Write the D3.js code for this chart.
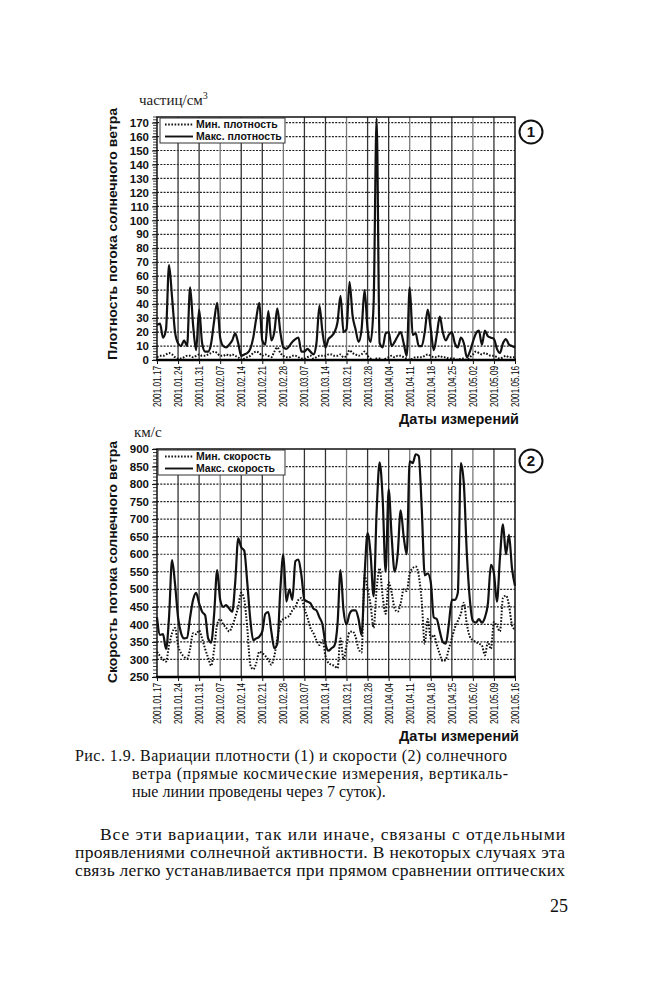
<!DOCTYPE html>
<html><head><meta charset="utf-8">
<script src="https://cdn.jsdelivr.net/npm/d3@7/dist/d3.min.js"></script>
<style>body{margin:0;background:#fff}</style>
</head><body>
<svg id="c" width="650" height="1000"></svg>
<script>
// ---------- DATA ----------
const startDate = "2001-01-17"; // daily measurements, 120 days
const dateTickLabels = ["2001.01.17","2001.01.24","2001.01.31","2001.02.07","2001.02.14","2001.02.21","2001.02.28","2001.03.07","2001.03.14","2001.03.21","2001.03.28","2001.04.04","2001.04.11","2001.04.18","2001.04.25","2001.05.02","2001.05.09","2001.05.16"];
const densityTicks = [0,10,20,30,40,50,60,70,80,90,100,110,120,130,140,150,160,170];
const speedTicks = [250,300,350,400,450,500,550,600,650,700,750,800,850,900];
const densityLegend = ["Мин. плотность","Макс. плотность"];
const speedLegend = ["Мин. скорость","Макс. скорость"];

const densityMax = [25,26,16,22,68,45,20,12,10,14,10,52,25,7,36,12,6,6,12,28,
  41,16,10,9,11,14,19,12,3,4,5,8,16,30,41,14,11,35,14,20,
  37,20,9,8,10,13,15,16,6,6,8,6,4,12,39,20,9,15,17,20,
  27,46,20,22,56,32,22,13,22,50,22,13,40,173,12,9,19,20,10,13,
  17,20,12,3,52,18,19,10,10,20,36,22,7,18,31,20,14,18,20,12,
  9,16,12,2,6,13,19,21,11,21,17,16,15,8,5,12,15,11,10,9];
const densityMin = [2,3,3,4,5,4,2,1,1,2,3,3,2,3,4,3,3,4,5,6,
  5,3,3,4,3,4,3,2,0,1,2,3,5,6,5,3,4,3,2,6,
  9,5,3,2,2,3,3,2,1,1,2,3,1,2,3,3,3,4,4,3,
  3,4,2,3,7,5,4,3,4,6,3,1,0,1,1,0,1,2,3,2,
  3,3,2,1,0,1,2,2,2,3,4,3,2,2,3,2,2,1,1,1,
  0,1,1,0,2,4,6,5,4,5,4,3,3,2,1,2,3,2,2,2];
const speedMax = [420,370,372,330,420,583,515,420,375,360,362,420,470,490,460,436,426,360,348,430,
  555,470,450,455,445,436,520,645,620,610,520,415,355,360,365,380,430,435,380,332,
  345,500,600,465,500,470,580,585,540,470,465,460,445,440,420,400,345,325,332,340,
  400,555,440,400,430,440,440,415,370,540,660,600,480,720,862,760,550,785,650,550,
  600,725,650,600,865,860,885,880,730,540,545,520,420,415,380,350,345,400,470,470,
  490,860,800,600,470,410,405,415,405,420,460,570,545,465,590,685,600,655,560,510];
const speedMin = [322,310,300,294,340,375,390,340,318,308,302,330,375,372,383,360,330,305,282,330,
  400,415,400,390,380,395,420,450,490,470,390,285,272,290,322,318,310,300,285,310,
  360,405,415,420,425,440,450,470,475,445,420,390,375,355,341,355,310,290,285,282,
  275,360,300,340,378,380,365,330,320,540,500,455,390,500,560,480,430,520,490,445,
  436,460,500,495,545,560,565,540,465,345,415,360,370,342,315,295,300,330,360,390,
  410,430,462,400,365,355,350,345,340,312,350,330,407,395,380,475,482,455,398,385];

// ---------- DRAW ----------
const svg = d3.select("#c");
const parse = d3.timeParse("%Y-%m-%d");
const d0 = parse(startDate);
const dates = densityMax.map((_, i) => d3.timeDay.offset(d0, i));
const tickDates = dateTickLabels.map(s => d3.timeParse("%Y.%m.%d")(s));
const SANS = "'Liberation Sans', Arial, sans-serif";
const SERIF = "'Liberation Serif', 'Times New Roman', serif";

function drawChart(cfg) {
  const g = svg.append("g");
  const x = d3.scaleTime().domain([dates[0], dates[dates.length-1]]).range([157, 515]);
  const y = d3.scaleLinear().domain(cfg.domain).range([cfg.bottom, cfg.top]);
  const [x0, x1] = x.range();

  // horizontal dotted grid
  g.append("g").selectAll("line").data(cfg.ticks.filter(v => v > cfg.domain[0] && v < cfg.domain[1]))
    .join("line").attr("x1", x0).attr("x2", x1).attr("y1", d => y(d)).attr("y2", d => y(d))
    .attr("stroke", "#222").attr("stroke-width", 1.2).attr("stroke-dasharray", "2,1.3");
  // vertical weekly grid
  g.append("g").selectAll("line").data(tickDates.slice(1, -1))
    .join("line").attr("x1", d => x(d)).attr("x2", d => x(d)).attr("y1", cfg.top).attr("y2", cfg.bottom)
    .attr("stroke", (d, i) => (i % 3 === 2 ? "#7a7a7a" : "#333")).attr("stroke-width", 1.3);

  // minor ticks on left
  g.append("g").selectAll("line").data(d3.range(cfg.domain[0], cfg.domain[1] + 0.001, cfg.minor))
    .join("line").attr("x1", x0 - 4).attr("x2", x0).attr("y1", d => y(d)).attr("y2", d => y(d))
    .attr("stroke", "#111").attr("stroke-width", 0.8);

  // series
  const line = d3.line().x((d, i) => x(dates[i])).y(d => y(d)).curve(d3.curveMonotoneX);
  g.append("path").datum(cfg.minData).attr("d", line).attr("fill", "none")
    .attr("stroke", "#111").attr("stroke-width", 2).attr("stroke-dasharray", "1.6,1.6");
  g.append("path").datum(cfg.maxData).attr("d", line).attr("fill", "none")
    .attr("stroke", "#111").attr("stroke-width", 2.2).attr("stroke-linejoin", "round");

  // frame
  g.append("rect").attr("x", x0).attr("y", cfg.top).attr("width", x1 - x0).attr("height", cfg.bottom - cfg.top)
    .attr("fill", "none").attr("stroke", "#111").attr("stroke-width", 1.5);
  g.append("line").attr("x1", x0 - 1).attr("x2", x1 + 1).attr("y1", cfg.bottom).attr("y2", cfg.bottom)
    .attr("stroke", "#000").attr("stroke-width", 2.6);

  // y axis labels
  const ya = d3.axisLeft(y).tickValues(cfg.ticks).tickSize(5).tickPadding(3);
  const yg = g.append("g").attr("transform", `translate(${x0},0)`).call(ya);
  yg.select(".domain").remove();
  yg.selectAll("line").attr("stroke", "#111");
  yg.selectAll("text").attr("font-family", SANS).attr("font-weight", "bold").attr("font-size", 11.5).attr("fill", "#111");

  // x axis
  const xa = d3.axisBottom(x).tickValues(tickDates).tickSize(4).tickFormat((d, i) => dateTickLabels[i]);
  const xg = g.append("g").attr("transform", `translate(0,${cfg.bottom})`).call(xa);
  xg.select(".domain").remove();
  xg.selectAll("line").attr("stroke", "#111");
  xg.selectAll("text").attr("transform", "rotate(-90)").attr("text-anchor", "end")
    .attr("x", -6).attr("y", 0).attr("dy", "0.35em")
    .attr("font-family", "'Liberation Sans Narrow', 'Arial Narrow', " + SANS)
    .attr("font-size", 10).attr("fill", "#000")
    .attr("textLength", 41).attr("lengthAdjust", "spacingAndGlyphs");

  // x title
  g.append("text").attr("x", 519).attr("y", cfg.bottom + 64).attr("text-anchor", "end")
    .attr("font-family", SANS).attr("font-weight", "bold").attr("font-size", 14.5).attr("fill", "#111")
    .text("Даты измерений");

  // y title
  g.append("text").attr("transform", `translate(117,${cfg.titleY}) rotate(-90)`).attr("text-anchor", "middle")
    .attr("font-family", SANS).attr("font-weight", "bold").attr("font-size", 13.5).attr("fill", "#111")
    .attr("textLength", cfg.titleLen).attr("lengthAdjust", "spacingAndGlyphs")
    .text(cfg.yTitle);

  // unit label
  const u = g.append("text").attr("x", cfg.unitX).attr("y", cfg.unitY)
    .attr("font-family", SERIF).attr("font-size", 15).attr("fill", "#222").text(cfg.unit);
  if (cfg.unitSup) u.append("tspan").attr("dy", -6).attr("font-size", 10).text(cfg.unitSup);

  // legend
  const lg = g.append("g");
  lg.append("rect").attr("x", cfg.legX).attr("y", cfg.legY).attr("width", cfg.legW).attr("height", 25)
    .attr("fill", "#fff").attr("stroke", "#333").attr("stroke-width", 1);
  cfg.legend.forEach((t, i) => {
    const ly = cfg.legY + 6.5 + i * 12;
    lg.append("line").attr("x1", 165).attr("x2", 193).attr("y1", ly).attr("y2", ly)
      .attr("stroke", "#111").attr("stroke-width", 1.9).attr("stroke-dasharray", i === 0 ? "1.6,1.6" : null);
    lg.append("text").attr("x", 196).attr("y", ly + 3.6).attr("font-family", SANS).attr("font-weight", "bold")
      .attr("font-size", 10.5).attr("fill", "#111").text(t);
  });

  // circled number
  g.append("circle").attr("cx", cfg.numX).attr("cy", cfg.numY).attr("r", 11.5)
    .attr("fill", "#fff").attr("stroke", "#111").attr("stroke-width", 2);
  g.append("text").attr("x", cfg.numX).attr("y", cfg.numY).attr("dy", "0.36em").attr("text-anchor", "middle")
    .attr("font-family", SANS).attr("font-weight", "bold").attr("font-size", 15).attr("fill", "#111").text(cfg.num);
}

drawChart({
  domain: [0, 174], top: 117, bottom: 360, ticks: densityTicks, minor: 2,
  minData: densityMin, maxData: densityMax, legend: densityLegend,
  yTitle: "Плотность потока солнечного ветра", titleY: 234, titleLen: 252,
  unit: "частиц/см", unitSup: "3", unitX: 139, unitY: 105,
  legX: 160, legY: 118, legW: 125, num: "1", numX: 531, numY: 132
});
drawChart({
  domain: [250, 900], top: 449, bottom: 677, ticks: speedTicks, minor: 10,
  minData: speedMin, maxData: speedMax, legend: speedLegend,
  yTitle: "Скорость потока солнечного ветра", titleY: 562, titleLen: 242,
  unit: "км/с", unitSup: null, unitX: 134, unitY: 437,
  legX: 158, legY: 450, legW: 127, num: "2", numX: 531, numY: 461
});

// ---------- TEXT ----------
function tl(x, y, size, txt, len) {
  const t = svg.append("text").attr("x", x).attr("y", y).attr("font-family", SERIF)
    .attr("font-size", size).attr("fill", "#111").text(txt);
  if (len) t.attr("textLength", len).attr("lengthAdjust", "spacing");
  return t;
}
tl(75, 761, 16, "Рис. 1.9. Вариации плотности  (1) и скорости (2) солнечного", 432);
tl(132, 779, 16, "ветра (прямые космические измерения, вертикаль-", 376);
tl(132, 797, 16, "ные линии проведены через 7 суток).");
tl(100, 840, 17.5, "Все эти вариации, так или иначе, связаны с отдельными", 465);
tl(75, 858, 17.5, "проявлениями солнечной активности. В некоторых случаях эта", 490);
tl(75, 876, 17.5, "связь легко устанавливается при прямом сравнении оптических", 490);
tl(568, 912, 18, "25").attr("text-anchor", "end");
</script>
</body></html>
